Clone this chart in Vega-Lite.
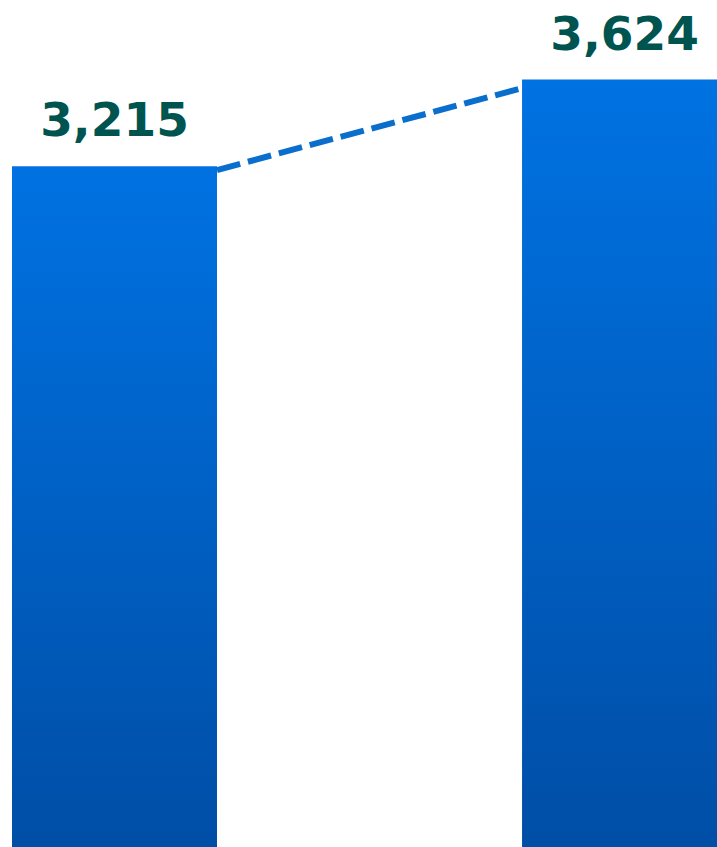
{
  "$schema": "https://vega.github.io/schema/vega-lite/v6.json",
  "width": 717,
  "height": 847,
  "padding": 0,
  "autosize": {"type": "none"},
  "background": "white",
  "config": {"view": {"stroke": null}},
  "datasets": {
    "bars": [
      {"year": "A", "value": 3215, "start": 0, "end": 1, "mid": 0.5, "label": "3,215"},
      {"year": "B", "value": 3624, "start": 2.488, "end": 3.488, "mid": 2.988, "label": "3,624"}
    ],
    "link": [
      {"x": 1, "v": 3197},
      {"x": 2.488, "v": 3584}
    ]
  },
  "layer": [
    {
      "data": {"name": "bars"},
      "mark": {
        "type": "bar",
        "clip": true,
        "color": {
          "gradient": "linear",
          "x1": 0, "y1": 0, "x2": 0, "y2": 1,
          "stops": [
            {"offset": 0, "color": "#0072E2"},
            {"offset": 1, "color": "#004EA6"}
          ]
        }
      },
      "encoding": {
        "x": {"field": "start", "type": "quantitative", "scale": {"domain": [-0.0585, 3.439]}, "axis": null},
        "x2": {"field": "end"},
        "y": {"field": "value", "type": "quantitative", "scale": {"domain": [0, 4000]}, "axis": null},
        "y2": {"datum": 0}
      }
    },
    {
      "data": {"name": "link"},
      "mark": {"type": "line", "color": "#0A6ECC", "strokeWidth": 6, "strokeDash": [24, 8], "strokeCap": "butt"},
      "encoding": {
        "x": {"field": "x", "type": "quantitative", "scale": {"domain": [-0.0585, 3.439]}, "axis": null},
        "y": {"field": "v", "type": "quantitative", "scale": {"domain": [0, 4000]}, "axis": null}
      }
    },
    {
      "data": {"name": "bars"},
      "mark": {"type": "text", "font": "DejaVu Sans", "fontWeight": "bold", "fontSize": 47, "color": "#005450", "baseline": "alphabetic", "align": "center", "dy": -30},
      "encoding": {
        "x": {"field": "mid", "type": "quantitative", "scale": {"domain": [-0.0585, 3.439]}, "axis": null},
        "y": {"field": "value", "type": "quantitative", "scale": {"domain": [0, 4000]}, "axis": null},
        "text": {"field": "label"}
      }
    }
  ]
}
